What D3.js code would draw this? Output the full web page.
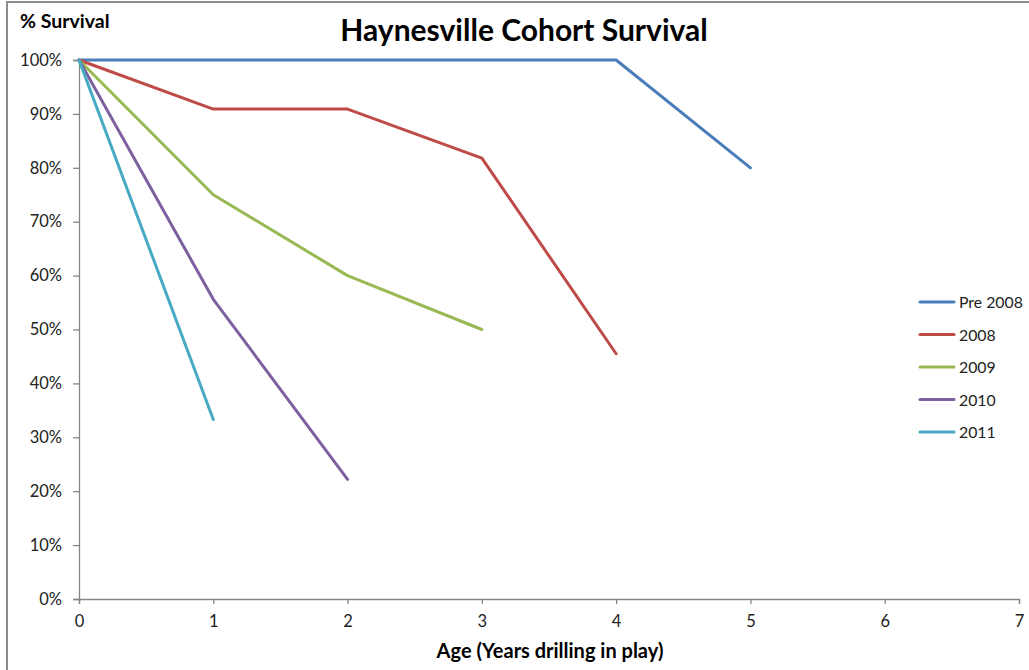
<!DOCTYPE html>
<html>
<head>
<meta charset="utf-8">
<script src="https://cdn.jsdelivr.net/npm/d3@7"></script>
<style>
  html, body { margin: 0; padding: 0; background: #fff; }
  svg { display: block; font-family: Lato, "Open Sans", sans-serif; }
</style>
</head>
<body>
<svg id="chart" width="1029" height="670"></svg>
<script>
// Cohort survival share by age (years drilling in play)
const seriesNames = ["Pre 2008", "2008", "2009", "2010", "2011"];
const seriesColors = ["#4A7EBB", "#BE4B48", "#98B954", "#7D60A0", "#46AAC5"];
const pre2008 = [1.00, 1.00, 1.00, 1.00, 1.00, 0.80];
const cohort2008 = [1.00, 0.909, 0.909, 0.818, 0.455];
const cohort2009 = [1.00, 0.75, 0.60, 0.50];
const cohort2010 = [1.00, 0.556, 0.222];
const cohort2011 = [1.00, 0.333];
const xTicks = [0, 1, 2, 3, 4, 5, 6, 7];
const yTicks = [0, 0.1, 0.2, 0.3, 0.4, 0.5, 0.6, 0.7, 0.8, 0.9, 1.0];

const allSeries = [pre2008, cohort2008, cohort2009, cohort2010, cohort2011];

const svg = d3.select("#chart");
const axisColor = "#868686";
const labelFont = "Lato, 'Open Sans', sans-serif";

// chart frame
svg.append("path")
  .attr("d", "M7,1030 L7,2 L1029,2")
  .attr("fill", "none")
  .attr("stroke", "#8c8c8c")
  .attr("stroke-width", 2);

const x = d3.scaleLinear().domain([0, 7]).range([79, 1019]);
const y = d3.scaleLinear().domain([0, 1]).range([599, 60]);

// y axis
const yAxis = svg.append("g")
  .attr("transform", "translate(79,0)")
  .call(d3.axisLeft(y).tickValues(yTicks).tickFormat(d3.format(".0%")).tickSize(6).tickPadding(11));
yAxis.select(".domain").attr("stroke", axisColor).attr("stroke-width", 1.3);
yAxis.selectAll(".tick line").attr("stroke", axisColor).attr("stroke-width", 1.3);
yAxis.selectAll(".tick text").attr("fill", "#222").style("font-size", "16.5px")
  .style("font-family", labelFont);

// x axis
const xAxis = svg.append("g")
  .attr("transform", "translate(0,599)")
  .call(d3.axisBottom(x).tickValues(xTicks).tickFormat(d3.format("d")).tickSize(5).tickPadding(11));
xAxis.select(".domain").attr("stroke", axisColor).attr("stroke-width", 1.3);
xAxis.selectAll(".tick line").attr("stroke", axisColor).attr("stroke-width", 1.3);
xAxis.selectAll(".tick text").attr("fill", "#222").style("font-size", "16.5px")
  .style("font-family", labelFont);

// series lines
const line = d3.line().x((d, i) => x(i)).y(d => y(d));
allSeries.forEach((vals, k) => {
  svg.append("path")
    .datum(vals)
    .attr("d", line)
    .attr("fill", "none")
    .attr("stroke", seriesColors[k])
    .attr("stroke-width", 3)
    .attr("stroke-linejoin", "round")
    .attr("stroke-linecap", "round");
});

// legend
const legend = svg.append("g");
seriesNames.forEach((name, k) => {
  const ly = 302 + k * 32.5;
  legend.append("line")
    .attr("x1", 920).attr("x2", 954)
    .attr("y1", ly).attr("y2", ly)
    .attr("stroke", seriesColors[k])
    .attr("stroke-width", 3)
    .attr("stroke-linecap", "round");
  legend.append("text")
    .attr("x", 959).attr("y", ly + 6)
    .attr("fill", "#222")
    .style("font-size", "15.8px")
    .text(name);
});

// titles
svg.append("text")
  .attr("x", 524).attr("y", 41)
  .attr("text-anchor", "middle")
  .style("font-size", "30px").style("font-weight", "bold")
  .attr("fill", "#000")
  .text("Haynesville Cohort Survival");

svg.append("text")
  .attr("x", 20).attr("y", 28)
  .style("font-size", "19.5px").style("font-weight", "bold")
  .attr("fill", "#000")
  .text("% Survival");

svg.append("text")
  .attr("x", 550).attr("y", 658)
  .attr("text-anchor", "middle")
  .style("font-size", "20px").style("font-weight", "bold")
  .attr("fill", "#000")
  .text("Age (Years drilling in play)");
</script>
</body>
</html>
